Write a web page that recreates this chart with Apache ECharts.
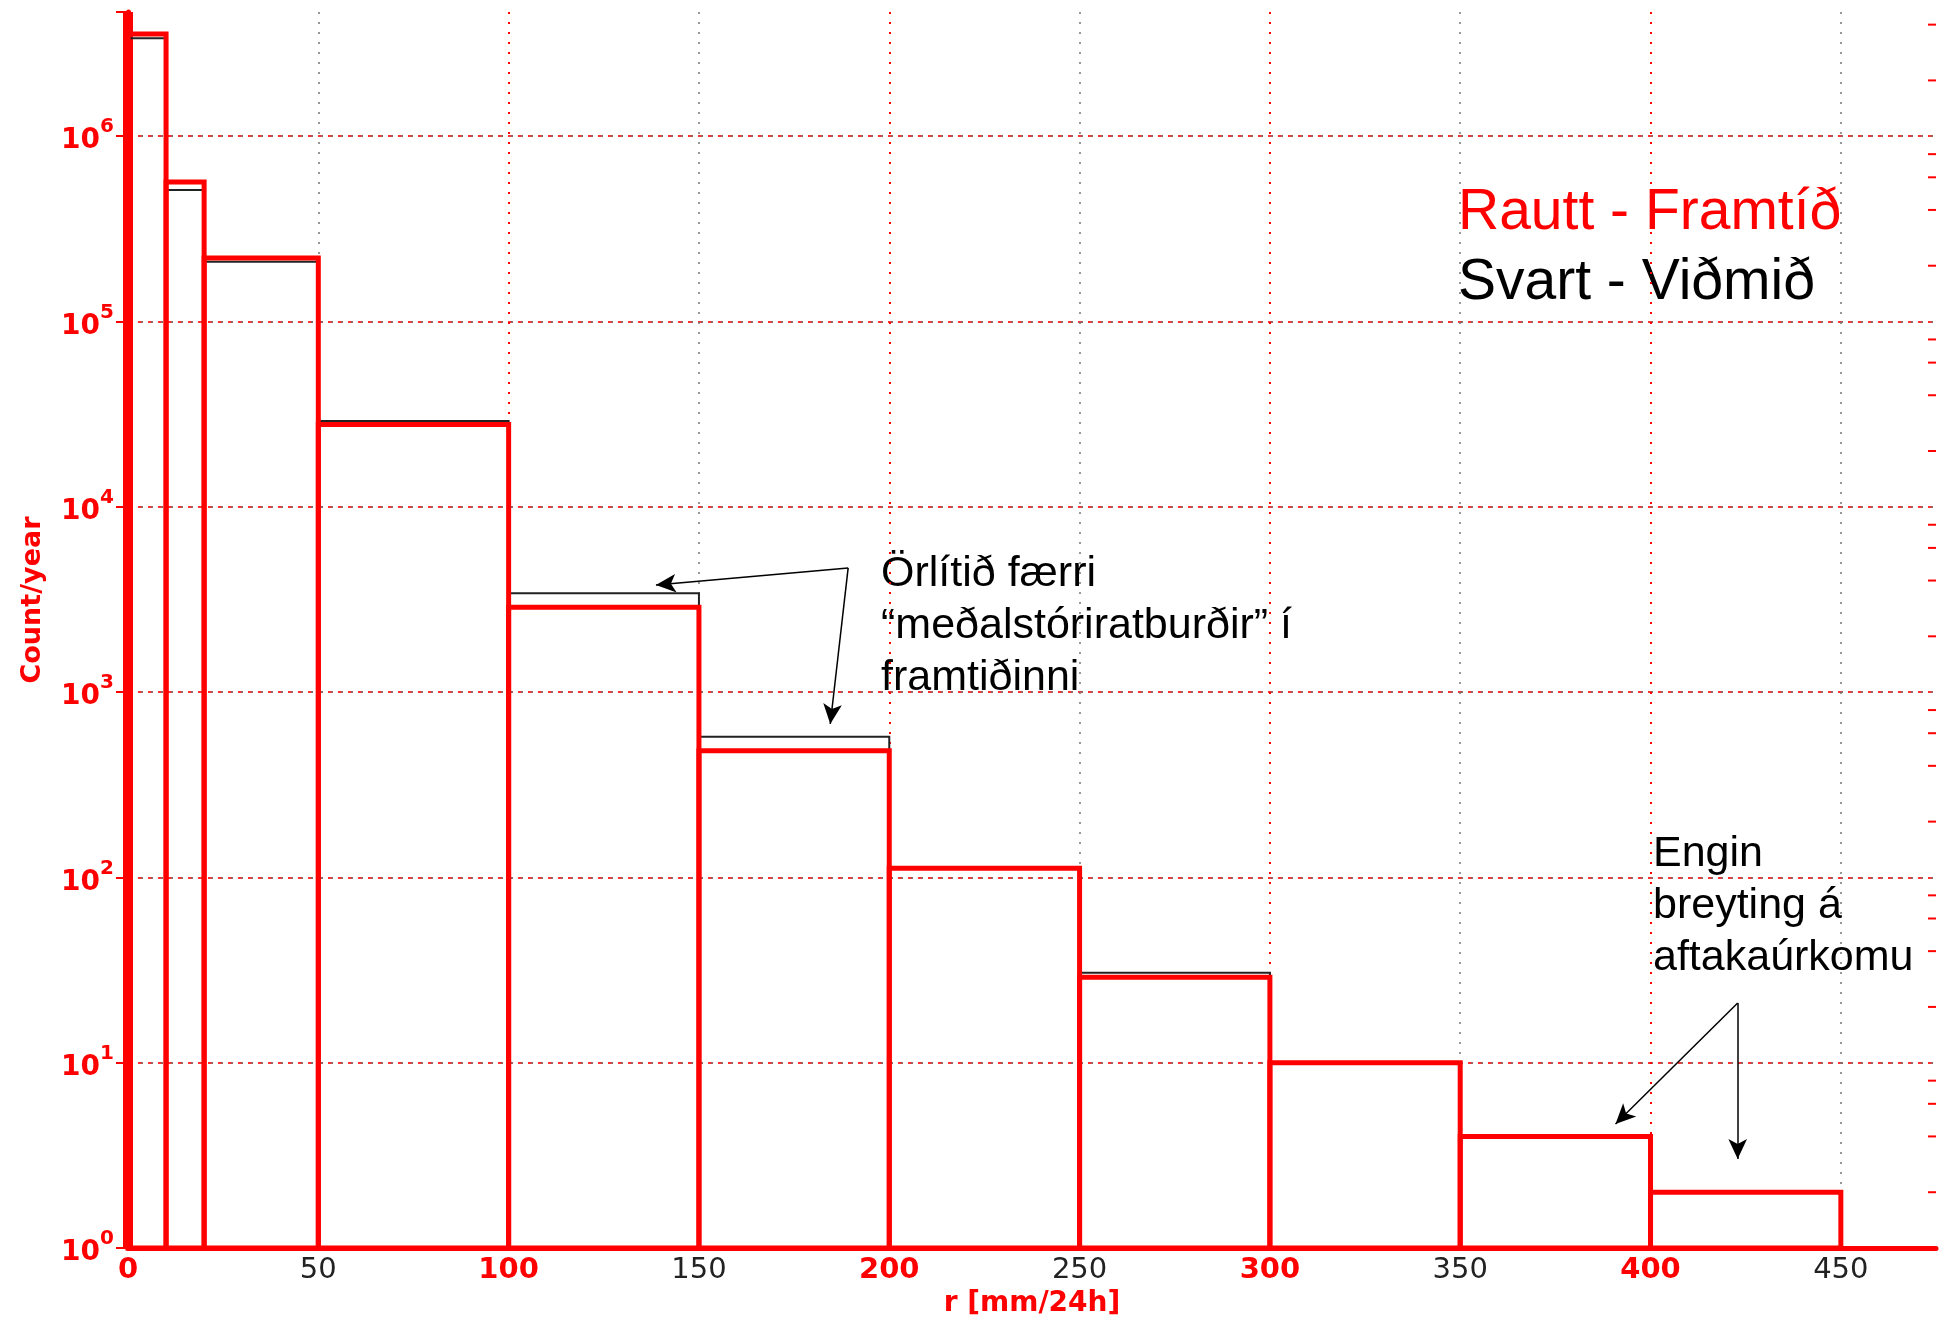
<!DOCTYPE html>
<html>
<head>
<meta charset="utf-8">
<title>Count/year</title>
<script src="https://cdn.jsdelivr.net/npm/echarts@6/dist/echarts.min.js"></script>
<style>
  html, body { margin: 0; padding: 0; background: #fff; }
  #main { width: 1941px; height: 1317px; }
</style>
</head>
<body>
<div id="main"></div>
<script>
// bin edges in mm/24h
var binEdges = [0, 10, 20, 50, 100, 150, 200, 250, 300, 350, 400, 450];
// rautt - framtíð
var futureCounts = [3.56e6, 5.66e5, 2.20e5, 2.78e4, 2870, 483, 112, 28.9, 10, 4, 2];
// svart - viðmið
var referenceCounts = [3.38e6, 5.13e5, 2.10e5, 2.90e4, 3414, 575, 112, 30.6, 10, 4, 2];

var xMax = 475;
var yMin = 1;
var yMax = 4.68e6;
var minorSubs = [2, 4, 6, 8];
var decades = [1, 10, 100, 1000, 1e4, 1e5, 1e6];

var legendLines = ['Rautt - Framtíð', 'Svart - Viðmið'];
var note1Lines = ['Örlítið færri', '“meðalstóriratburðir” í', 'framtiðinni'];
var note2Lines = ['Engin', 'breyting á', 'aftakaúrkomu'];

// arrows: [from, to] in data coords
var arrows = [
  [[189.2, 4677], [138.7, 3785]],
  [[189.2, 4677], [184.5, 673]],
  [[422.9, 21.0], [390.8, 4.67]],
  [[422.9, 21.0], [422.9, 3.02]]
];

var minorTicks = [];
decades.forEach(function (d) {
  minorSubs.forEach(function (s) {
    if (d * s < yMax) minorTicks.push([xMax, d * s]);
  });
});

function binData(values) {
  return values.map(function (v, i) {
    return [binEdges[i], binEdges[i + 1], v];
  });
}

function histRender(color, width) {
  return function (params, api) {
    var p0 = api.coord([api.value(0), yMin]);
    var p1 = api.coord([api.value(1), api.value(2)]);
    return {
      type: 'rect',
      shape: { x: p0[0], y: p1[1], width: p1[0] - p0[0], height: p0[1] - p1[1] },
      style: { fill: 'none', stroke: color, lineWidth: width, lineJoin: 'miter' }
    };
  };
}

function logLabel(value) {
  var lg = Math.log10(value);
  var n = Math.round(lg);
  if (Math.abs(lg - n) > 1e-6) return '';
  return '{b|10}{s|' + n + '}';
}

var graphics = [];
function addLines(lines, x, y0, step, size, color) {
  lines.forEach(function (t, i) {
    graphics.push({
      type: 'text',
      x: x,
      y: y0 + i * step,
      silent: true,
      style: {
        text: t,
        fill: color,
        font: 'normal ' + size + 'px "Liberation Sans", Arial, sans-serif',
        verticalAlign: 'middle',
        align: 'left'
      }
    });
  });
}
addLines(legendLines.slice(0, 1), 1458, 213, 70, 57, '#ff0000');
addLines(legendLines.slice(1), 1458, 283, 70, 57, '#000000');
addLines(note1Lines, 881, 574, 52, 43, '#000000');
addLines(note2Lines, 1653, 854, 52, 43, '#000000');

var myChart = echarts.init(document.getElementById('main'));

var option = {
  animation: false,
  backgroundColor: '#ffffff',
  grid: { left: 128, right: 5, top: 12, bottom: 69, outerBoundsMode: 'none', containLabel: false },
  xAxis: [{
    type: 'value',
    min: 0,
    max: xMax,
    interval: 50,
    name: 'r [mm/24h]',
    nameLocation: 'middle',
    nameGap: 42,
    nameTextStyle: { color: '#ff0000', fontWeight: 'bold', fontSize: 28, fontFamily: 'DejaVu Sans' },
    axisLine: { lineStyle: { color: '#ff0000', width: 5 } },
    axisTick: { show: false },
    axisLabel: {
      margin: 8,
      showMaxLabel: false,
      formatter: function (v) {
        return v % 100 === 0 ? '{r|' + v + '}' : '{k|' + v + '}';
      },
      rich: {
        r: { color: '#ff0000', fontWeight: 'bold', fontSize: 29, fontFamily: 'DejaVu Sans' },
        k: { color: '#222222', fontSize: 29, fontFamily: 'DejaVu Sans' }
      }
    },
    splitLine: { show: true, showMaxLine: false, lineStyle: { color: '#777777', width: 1.5, type: [2, 8] } }
  }, {
    type: 'value',
    min: 0,
    max: xMax,
    interval: 100,
    position: 'bottom',
    axisLine: { show: false },
    axisTick: { show: false },
    axisLabel: { show: false },
    splitLine: { show: true, showMaxLine: false, lineStyle: { color: '#ff0000', width: 2, type: [2, 8] } }
  }],
  yAxis: [{
    type: 'log',
    logBase: 10,
    min: yMin,
    max: yMax,
    interval: 1,
    name: 'Count/year',
    nameLocation: 'middle',
    nameGap: 82,
    nameRotate: 90,
    nameTextStyle: { color: '#ff0000', fontWeight: 'bold', fontSize: 27, fontFamily: 'DejaVu Sans', padding: [0, 0, 0, 60] },
    axisLine: { show: true, lineStyle: { color: '#ff0000', width: 10, cap: 'butt' } },
    axisTick: { show: false },
    axisLabel: {
      margin: 14,
      showMaxLabel: false,
      formatter: logLabel,
      rich: {
        b: { color: '#ff0000', fontWeight: 'bold', fontSize: 28, fontFamily: 'DejaVu Sans', lineHeight: 38, verticalAlign: 'bottom' },
        s: { color: '#ff0000', fontWeight: 'bold', fontSize: 20, fontFamily: 'DejaVu Sans', lineHeight: 38, verticalAlign: 'top' }
      }
    },
    splitLine: { show: true, showMaxLine: false, lineStyle: { color: '#ff0000', width: 1.6, type: [5, 5] } }
  }, {
    type: 'log',
    logBase: 10,
    min: yMin,
    max: yMax,
    interval: 1,
    position: 'right',
    axisLine: { show: true, lineStyle: { color: '#ff0000', width: 5 } },
    axisTick: { show: true, inside: true, length: 12, lineStyle: { color: '#ff0000', width: 2 } },
    axisLabel: { show: false },
    splitLine: { show: true, showMaxLine: false, lineStyle: { color: '#777777', width: 1.5, type: [2, 8], dashOffset: 7 } }
  }],
  graphic: graphics,
  series: [{
    name: 'Viðmið',
    type: 'custom',
    renderItem: histRender('#222222', 2),
    encode: { x: [0, 1], y: 2 },
    data: binData(referenceCounts),
    z: 3,
    markLine: {
      silent: true,
      symbol: ['none', 'arrow'],
      symbolSize: [14, 20],
      label: { show: false },
      lineStyle: { color: '#000000', width: 1.5, type: 'solid' },
      data: arrows.map(function (a) {
        return [{ coord: a[0] }, { coord: a[1] }];
      })
    }
  }, {
    name: 'Framtíð',
    type: 'custom',
    renderItem: histRender('#ff0000', 5),
    encode: { x: [0, 1], y: 2 },
    data: binData(futureCounts),
    z: 4
  }, {
    name: 'minor',
    type: 'custom',
    silent: true,
    renderItem: function (params, api) {
      var p = api.coord([api.value(0), api.value(1)]);
      return {
        type: 'line',
        shape: { x1: p[0], y1: p[1], x2: p[0] - 8, y2: p[1] },
        style: { stroke: '#ff0000', lineWidth: 2 }
      };
    },
    encode: { x: 0, y: 1 },
    data: minorTicks,
    z: 5
  }]
};

myChart.setOption(option);
</script>
</body>
</html>
